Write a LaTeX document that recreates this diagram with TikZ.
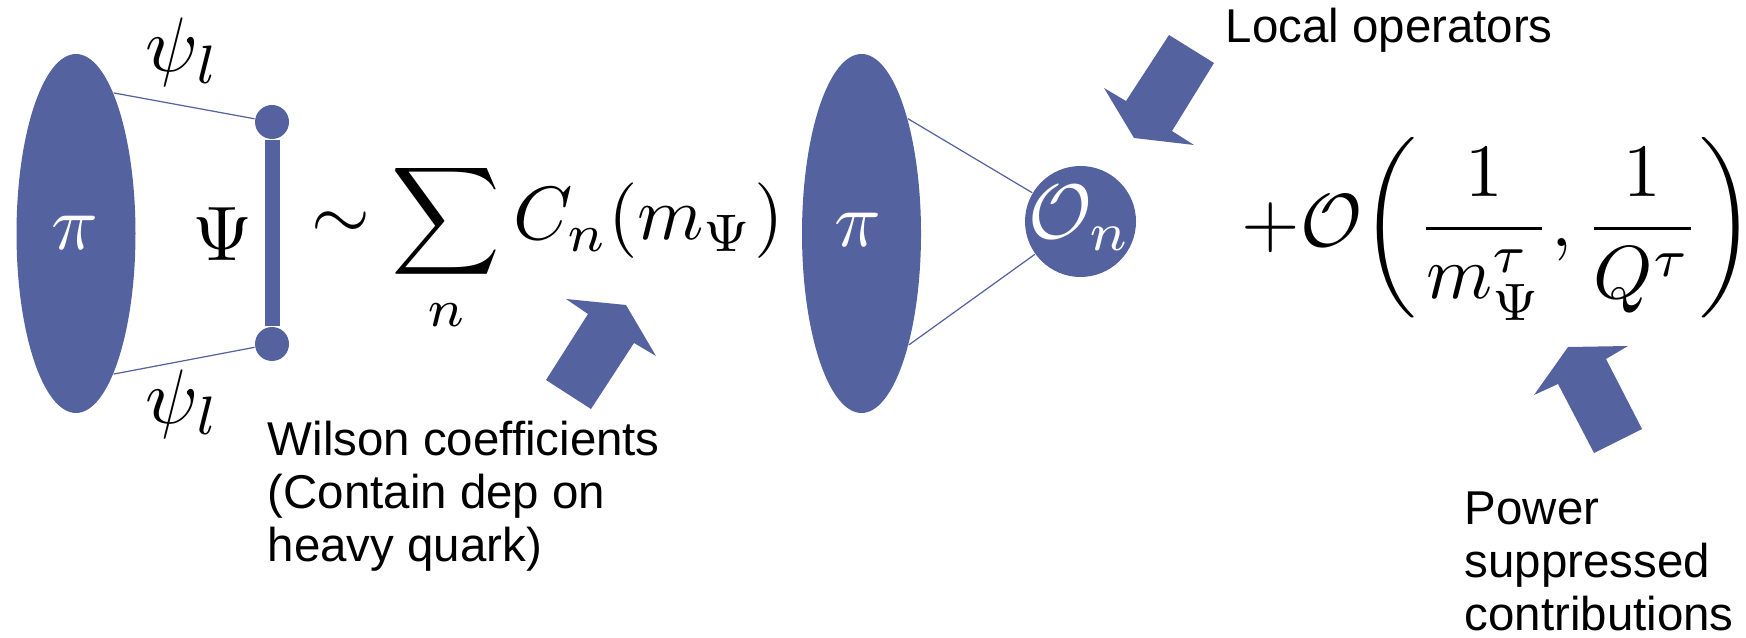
\documentclass[tikz,border=0pt]{standalone}
\usepackage{exscale}
\usepackage{fontspec}
\setsansfont{Liberation Sans}
\usetikzlibrary{shapes.geometric}
\definecolor{opblue}{RGB}{85,98,160}
\tikzset{
  mathfont/.style={font=\fontsize{10}{12}\selectfont, scale=#1},
  mathfont/.default=2.2,
  blob/.style={ellipse, fill=opblue, minimum width=11.9mm, minimum height=35.9mm,
    inner sep=0pt},
  vertex/.style={circle, fill=opblue, minimum size=3.4mm, inner sep=0pt},
  opnode/.style={circle, fill=opblue, minimum size=11.1mm, inner sep=0pt},
  leg/.style={opblue, line width=0.35pt},
  note/.style={font=\sffamily\fontsize{13.5}{15.1}\selectfont, align=left, inner sep=0pt},
}
\begin{document}
\begin{tikzpicture}[x=0.1mm, y=-0.1mm]
  \useasboundingbox (0,0) rectangle (1746,638);
  % Full matrix element: pion and heavy quark line
  \node[blob] (pionL) at (76,233.5) {};
  \node[mathfont, text=white] (piL) at (75,233) {$\pi$};
  \node[vertex] (qtop) at (272,122) {};
  \node[vertex] (qbot) at (272,344) {};
  \draw[opblue, line width=1.5mm] (qtop) -- (qbot);
  \draw[leg] (pionL.75) -- (qtop);
  \draw[leg] (pionL.-75) -- (qbot);
  \node[mathfont, anchor=base] (psiU) at (183,72) {$\psi_l$};
  \node[mathfont, anchor=base] (psiD) at (183,423) {$\psi_l$};
  \node[mathfont, anchor=base] (heavy) at (223,260) {$\Psi$};
  % Matching onto local operators
  \node[mathfont=2.15, anchor=base west, inner sep=0pt] (sumC) at (310,240)
    {$\displaystyle\sim\sum_n C_n(m_\Psi)$};
  \node[blob] (pionM) at (861.5,233.5) {};
  \node[mathfont, text=white] (piM) at (858,230) {$\pi$};
  \node[opnode] (On) at (1080.5,221.5) {};
  \node[mathfont, text=white] (OnLbl) at (1080,218) {$\mathcal{O}_n$};
  \draw[leg] (pionM.68) -- (On);
  \draw[leg] (pionM.-67) -- (On);
  \node[mathfont=2.14, anchor=base west, inner sep=0pt] (corr) at (1240,247)
    {$\displaystyle +\mathcal{O}\biggl(\frac{1}{m_\Psi^\tau},\frac{1}{Q^\tau}\biggr)$};
  % Block arrows
  \fill[opblue] (566,299) -- (626,305) -- (656,356) -- (634,343)
    -- (591,409) -- (546,380) -- (588,314) -- cycle;
  \fill[opblue] (1169,35) -- (1214,63) -- (1172,131) -- (1194,145)
    -- (1134,138) -- (1104,88) -- (1126,101) -- cycle;
  \fill[opblue] (1534,395) -- (1568,347) -- (1628,346) -- (1606,359)
    -- (1642,429) -- (1594,453) -- (1558,384) -- cycle;
  % Labels
  \node[note, anchor=north west] (wilson) at (267,420)
    {Wilson coefficients\\(Contain dep on\\heavy quark)};
  \node[note, anchor=base west] (local) at (1225,43) {Local operators};
  \node[note, anchor=north west] (power) at (1464,491)
    {Power\\suppressed\\contributions};
\end{tikzpicture}
\end{document}
